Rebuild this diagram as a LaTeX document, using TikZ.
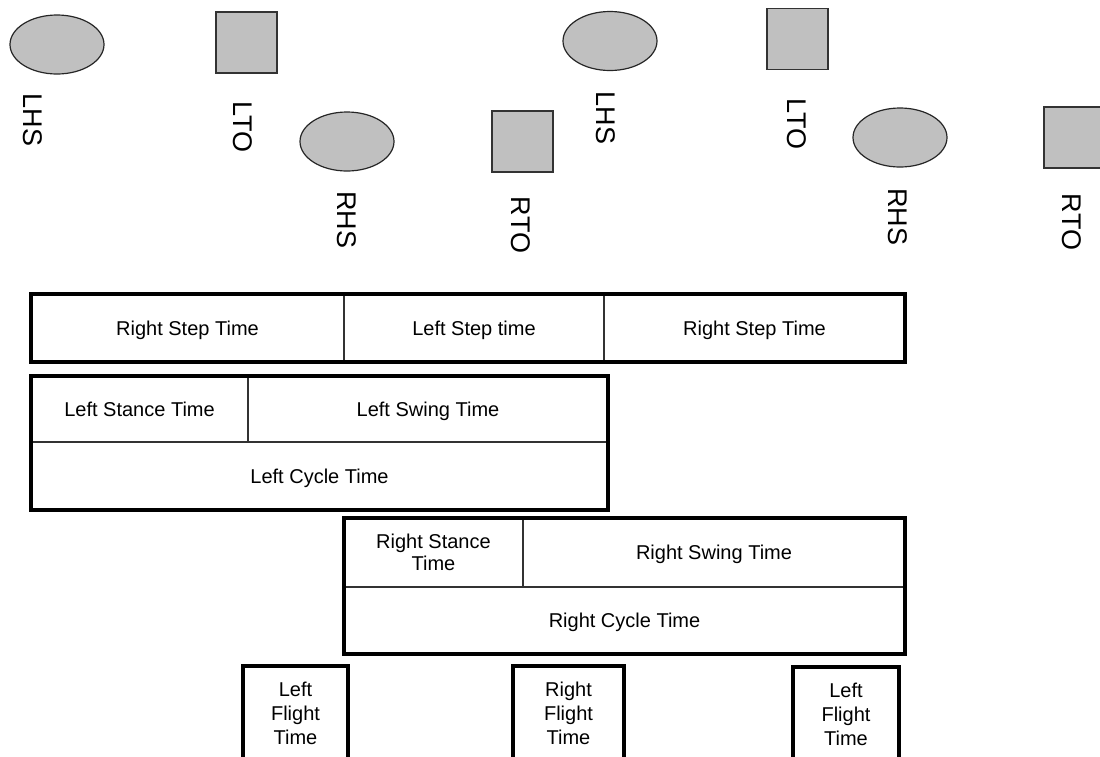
\documentclass[tikz,border=0pt]{standalone}
\usepackage{fontspec}
\setmainfont{Liberation Sans}
\usetikzlibrary{shapes.geometric}
\definecolor{shapegray}{RGB}{192,192,192}
\definecolor{divline}{RGB}{50,50,50}
\begin{document}
\begin{tikzpicture}[x=1pt,y=-1pt,
  heel/.style={ellipse,draw=black!85,fill=shapegray,line width=1.2pt,minimum width=94pt,minimum height=59pt,inner sep=0pt},
  toe/.style={rectangle,draw=black!80,fill=shapegray,line width=1.4pt,minimum width=61pt,minimum height=61pt,inner sep=0pt},
  evlabel/.style={rotate=-90,font=\fontsize{27}{30}\selectfont,inner sep=0pt},
  cell/.style={rectangle,draw=divline,line width=1.5pt,inner sep=0pt,outer sep=0pt,align=center,font=\fontsize{20}{22}\selectfont},
  oneline/.style={cell,text height=14.5pt,text depth=0.5pt},
  frame/.style={draw=black,line width=4pt},
  flight/.style={rectangle,draw=black,line width=4pt,inner sep=0pt,align=center,font=\fontsize{20}{24}\selectfont,minimum height=94pt}
  ]
\useasboundingbox (0,0) rectangle (1100,756);
\clip (0,0) rectangle (1100,756);
% events
\node[heel] (lhs1) at (57,44.5) {};
\node[toe] (lto1) at (246.5,42.5) {};
\node[heel] (rhs1) at (347,141.5) {};
\node[toe] (rto1) at (522.5,141.5) {};
\node[heel] (lhs2) at (610,41) {};
\node[toe] (lto2) at (797.5,39) {};
\node[heel] (rhs2) at (900,137.5) {};
\node[toe] (rto2) at (1074.5,137.5) {};
\node[evlabel] (tlhs1) at (33,120) {LHS};
\node[evlabel] (tlto1) at (243,127) {LTO};
\node[evlabel] (trhs1) at (347,220) {RHS};
\node[evlabel] (trto1) at (521,225) {RTO};
\node[evlabel] (tlhs2) at (606,118) {LHS};
\node[evlabel] (tlto2) at (797,124) {LTO};
\node[evlabel] (trhs2) at (898,217) {RHS};
\node[evlabel] (trto2) at (1072,222) {RTO};
% step times
\node[oneline,minimum width=313pt,minimum height=68pt] (rst1) at (187.5,328) {Right Step Time};
\node[oneline,minimum width=260pt,minimum height=68pt] (lst) at (474,328) {Left Step time};
\node[oneline,minimum width=301pt,minimum height=68pt] (rst2) at (754.5,328) {Right Step Time};
\draw[frame] (rst1.north west) rectangle (rst2.south east);
% left cycle
\node[oneline,minimum width=217pt,minimum height=66pt] (lstance) at (139.5,409) {Left Stance Time};
\node[oneline,minimum width=360pt,minimum height=66pt] (lswing) at (428,409) {Left Swing Time};
\node[oneline,minimum width=577pt,minimum height=68pt] (lcycle) at (319.5,476) {Left Cycle Time};
\draw[frame] (lstance.north west) rectangle (lcycle.south east);
% right cycle
\node[cell,minimum width=179pt,minimum height=69pt] (rstance) at (433.5,552.5) {Right Stance\\Time};
\node[oneline,minimum width=382pt,minimum height=69pt] (rswing) at (714,552.5) {Right Swing Time};
\node[oneline,minimum width=561pt,minimum height=67pt] (rcycle) at (624.5,620.5) {Right Cycle Time};
\draw[frame] (rstance.north west) rectangle (rcycle.south east);
% flight times
\node[flight,minimum width=105pt] (lf1) at (295.5,713) {Left\\Flight\\Time};
\node[flight,minimum width=111pt] (rf) at (568.5,713) {Right\\Flight\\Time};
\node[flight,minimum width=106pt] (lf2) at (846,714) {Left\\Flight\\Time};
\end{tikzpicture}
\end{document}
